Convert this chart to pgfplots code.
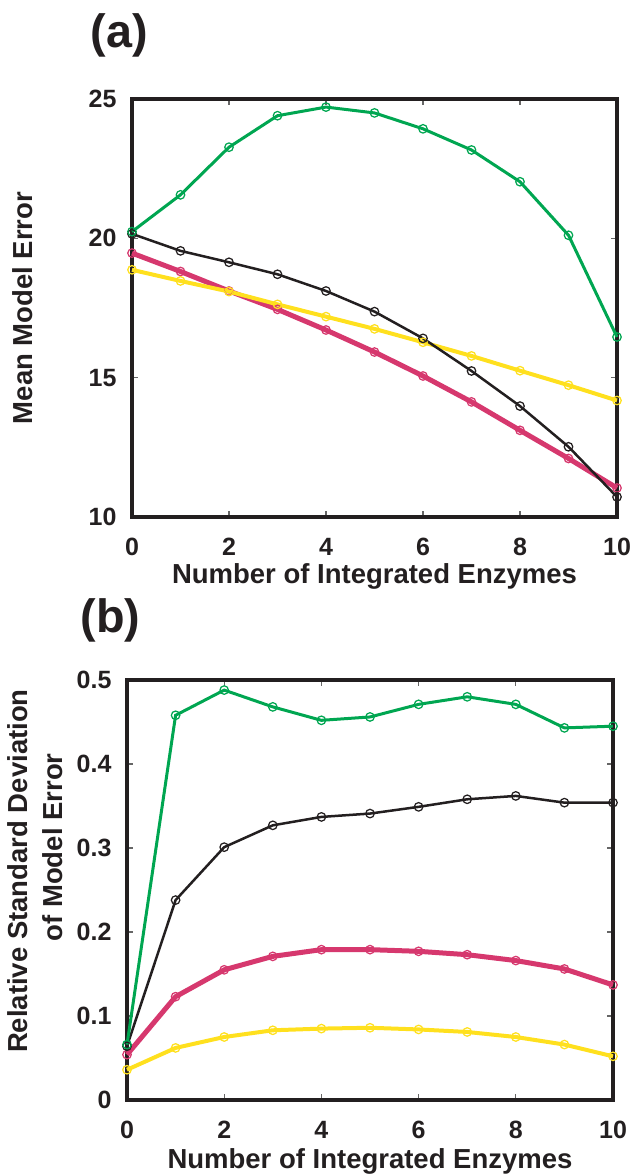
\documentclass[border=0pt]{standalone}
\usepackage{fontspec}
\setmainfont{Liberation Sans}
\usepackage{pgfplots}
\pgfplotsset{compat=1.18}

\definecolor{cgreen}{RGB}{0,166,81}
\definecolor{cblack}{RGB}{35,31,32}
\definecolor{cmag}{RGB}{214,56,110}
\definecolor{cyel}{RGB}{255,224,30}

\pgfplotsset{
  every axis title shift=0pt,
  panel/.style={
    scale only axis,
    clip=false,
    xmin=0, xmax=10,
    xtick={0,2,...,10},
    tick align=inside,
    axis line style={line width=1.8pt, color=cblack},
    major tick style={line width=0.5pt, color=black!60},
    major tick length=2.4pt,
    /pgf/number format/assume math mode=true,
    tick label style={font=\fontsize{10}{12}\selectfont\bfseries, text=cblack},
    xticklabel style={anchor=base, inner sep=0pt, yshift=-15.4pt},
    yticklabel style={anchor=east, inner sep=0pt, xshift=-6pt},
    label style={font=\fontsize{11}{14}\selectfont\bfseries, text=cblack, inner sep=0pt},
    title style={font=\fontsize{18.7}{21}\selectfont\bfseries, text=cblack, inner sep=0pt, anchor=base west},
  },
  sgreen/.style={color=cgreen, line width=1.2pt, mark=o, mark size=1.7pt, mark options={line width=0.5pt}},
  sblack/.style={color=cblack, line width=1.0pt, mark=o, mark size=1.7pt, mark options={line width=0.5pt}},
  smag/.style={color=cmag, line width=2.0pt, mark=o, mark size=1.7pt, mark options={line width=0.5pt}},
  syel/.style={color=cyel, line width=1.6pt, mark=o, mark size=1.7pt, mark options={line width=0.5pt}},
}

\begin{document}
\begin{tikzpicture}
\path[use as bounding box] (0,0) rectangle (252.8pt,-470pt);

% (a) mean model error
\begin{axis}[panel,
  at={(52.8pt,-39.6pt)}, anchor=north west,
  width=194pt, height=167.2pt,
  ymin=10, ymax=25, ytick={10,15,20,25},
  title={(a)},
  title style={at={(axis description cs:-0.0866,1.122)}},
  xlabel={Number of Integrated Enzymes},
  xlabel style={at={(axis description cs:0.5,-0.160)}, anchor=base},
  ylabel={Mean Model Error},
  ylabel style={at={(axis description cs:-0.226,0.5)}, anchor=center},
]
\addplot+[smag] coordinates {(0,19.47) (1,18.81) (2,18.11) (3,17.45) (4,16.71) (5,15.92) (6,15.06) (7,14.13) (8,13.11) (9,12.10) (10,11.04)};
\addplot+[syel] coordinates {(0,18.87) (1,18.47) (2,18.09) (3,17.63) (4,17.19) (5,16.75) (6,16.27) (7,15.78) (8,15.25) (9,14.73) (10,14.18)};
\addplot+[sblack] coordinates {(0,20.16) (1,19.55) (2,19.14) (3,18.71) (4,18.11) (5,17.37) (6,16.41) (7,15.24) (8,13.98) (9,12.52) (10,10.72)};
\addplot+[sgreen] coordinates {(0,20.24) (1,21.56) (2,23.27) (3,24.40) (4,24.71) (5,24.50) (6,23.93) (7,23.17) (8,22.03) (9,20.11) (10,16.46)};
\end{axis}

% (b) relative standard deviation
\begin{axis}[panel,
  at={(50.8pt,-272pt)}, anchor=north west,
  width=194.4pt, height=168pt,
  ymin=0, ymax=0.5, ytick={0,0.1,...,0.5},
  yticklabel style={/pgf/number format/fixed},
  title={(b)},
  title style={at={(axis description cs:-0.0967,1.114)}},
  xlabel={Number of Integrated Enzymes},
  xlabel style={at={(axis description cs:0.5,-0.162)}, anchor=base},
  ylabel={Relative Standard Deviation\\\hspace*{19pt}of Model Error},
  ylabel style={at={(axis description cs:-0.188,0.545)}, anchor=center, align=center},
]
\addplot+[syel] coordinates {(0,0.036) (1,0.062) (2,0.075) (3,0.083) (4,0.085) (5,0.086) (6,0.084) (7,0.081) (8,0.075) (9,0.066) (10,0.052)};
\addplot+[smag] coordinates {(0,0.054) (1,0.123) (2,0.155) (3,0.171) (4,0.179) (5,0.179) (6,0.177) (7,0.173) (8,0.166) (9,0.156) (10,0.137)};
\addplot+[sblack] coordinates {(0,0.064) (1,0.238) (2,0.301) (3,0.327) (4,0.337) (5,0.341) (6,0.349) (7,0.358) (8,0.362) (9,0.354) (10,0.354)};
\addplot+[sgreen] coordinates {(0,0.066) (1,0.458) (2,0.488) (3,0.468) (4,0.452) (5,0.456) (6,0.471) (7,0.480) (8,0.471) (9,0.443) (10,0.445)};
\end{axis}
\end{tikzpicture}
\end{document}
